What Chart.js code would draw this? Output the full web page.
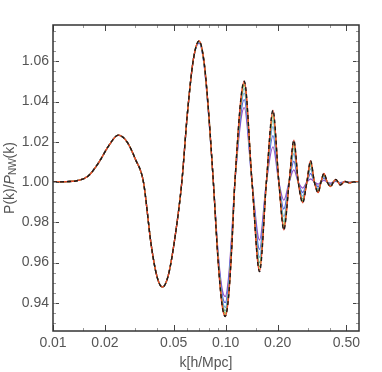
<!DOCTYPE html>
<html lang="en">
	<head>
		<meta charset="UTF-8">
		<title>BAO wiggles</title>
		<script src="https://cdn.jsdelivr.net/npm/chart.js"></script>
		<style>
			html, body { margin: 0; padding: 0; background: #fff; }
			#wrap { width: 382px; height: 372px; }
		</style>
	</head>
	<body>
		<div id="wrap"><canvas id="bao"></canvas></div>
		<script>
			// k values where every curve coincides (low k)
			const lowK = [0.010, 0.012, 0.014, 0.016, 0.0185, 0.021, 0.0239, 0.027, 0.030, 0.0334, 0.037, 0.040, 0.043, 0.0465, 0.051, 0.0557, 0.060, 0.065];
			const lowRatio = [1.0000, 1.0002, 1.0008, 1.0030, 1.0100, 1.0180, 1.0233, 1.0196, 1.0113, 1.0000, 0.9689, 0.9530, 0.9478, 0.9536, 0.9733, 1.0000, 1.0341, 1.0610];

			// k values where the damping starts to separate the curves
			const highK = [0.0701, 0.075, 0.080, 0.0848, 0.090, 0.095, 0.0993, 0.104, 0.1085, 0.113, 0.128, 0.142, 0.157, 0.172, 0.1877, 0.203, 0.217, 0.233, 0.248, 0.263, 0.279, 0.295, 0.310, 0.326, 0.343, 0.356, 0.370, 0.387, 0.405, 0.420, 0.434, 0.447, 0.460, 0.490, 0.520, 0.550, 0.591];

			const purpleHigh = [1.0690, 1.0580, 1.0310, 1.0000, 0.9665, 0.9475, 0.9431, 0.9530, 0.9746, 1.0000, 1.0370, 1.0000, 0.9712, 1.0000, 1.0175, 1.0000, 0.9910, 1.0000, 1.0060, 1.0000, 0.9970, 1.0000, 1.0015, 1.0000, 0.9990, 1.0000, 1.0008, 1.0000, 0.9995, 1.0000, 1.0003, 1.0000, 0.9997, 1.0001, 0.9999, 1.0000, 1.0000];
			const blueHigh = [1.0693, 1.0584, 1.0314, 1.0000, 0.9654, 0.9451, 0.9401, 0.9501, 0.9727, 1.0000, 1.0409, 1.0000, 0.9665, 1.0000, 1.0230, 1.0000, 0.9866, 1.0000, 1.0104, 1.0000, 0.9948, 1.0000, 1.0042, 1.0000, 0.9977, 1.0000, 1.0019, 1.0000, 0.9990, 1.0000, 1.0006, 1.0000, 0.9993, 1.0002, 0.9998, 1.0000, 1.0000];
			const lightBlueHigh = [1.0696, 1.0588, 1.0318, 1.0000, 0.9645, 0.9432, 0.9377, 0.9477, 0.9711, 1.0000, 1.0442, 1.0000, 0.9626, 1.0000, 1.0275, 1.0000, 0.9829, 1.0000, 1.0141, 1.0000, 0.9930, 1.0000, 1.0065, 1.0000, 0.9966, 1.0000, 1.0027, 1.0000, 0.9985, 1.0000, 1.0009, 1.0000, 0.9990, 1.0002, 0.9997, 1.0000, 1.0000];
			const tealHigh = [1.0698, 1.0590, 1.0320, 1.0000, 0.9638, 0.9418, 0.9360, 0.9461, 0.9700, 1.0000, 1.0464, 1.0000, 0.9599, 1.0000, 1.0306, 1.0000, 0.9803, 1.0000, 1.0167, 1.0000, 0.9917, 1.0000, 1.0081, 1.0000, 0.9959, 1.0000, 1.0033, 1.0000, 0.9982, 1.0000, 1.0010, 1.0000, 0.9988, 1.0003, 0.9997, 1.0001, 1.0000];
			const greenHigh = [1.0699, 1.0592, 1.0322, 1.0000, 0.9634, 0.9408, 0.9347, 0.9448, 0.9692, 1.0000, 1.0481, 1.0000, 0.9579, 1.0000, 1.0330, 1.0000, 0.9784, 1.0000, 1.0186, 1.0000, 0.9908, 1.0000, 1.0092, 1.0000, 0.9953, 1.0000, 1.0038, 1.0000, 0.9980, 1.0000, 1.0011, 1.0000, 0.9987, 1.0003, 0.9996, 1.0001, 1.0000];
			const orangeHigh = [1.0700, 1.0593, 1.0323, 1.0000, 0.9630, 0.9401, 0.9338, 0.9440, 0.9686, 1.0000, 1.0493, 1.0000, 0.9564, 1.0000, 1.0346, 1.0000, 0.9771, 1.0000, 1.0199, 1.0000, 0.9901, 1.0000, 1.0101, 1.0000, 0.9950, 1.0000, 1.0041, 1.0000, 0.9978, 1.0000, 1.0012, 1.0000, 0.9986, 1.0003, 0.9996, 1.0001, 1.0000];
			const redHigh = [1.0701, 1.0594, 1.0324, 1.0000, 0.9628, 0.9396, 0.9332, 0.9434, 0.9682, 1.0000, 1.0501, 1.0000, 0.9555, 1.0000, 1.0357, 1.0000, 0.9762, 1.0000, 1.0208, 1.0000, 0.9897, 1.0000, 1.0106, 1.0000, 0.9947, 1.0000, 1.0043, 1.0000, 0.9977, 1.0000, 1.0013, 1.0000, 0.9985, 1.0003, 0.9996, 1.0001, 1.0000];
			const blackHigh = [1.0701, 1.0594, 1.0324, 1.0000, 0.9628, 0.9396, 0.9332, 0.9434, 0.9682, 1.0000, 1.0501, 1.0000, 0.9555, 1.0000, 1.0357, 1.0000, 0.9762, 1.0000, 1.0208, 1.0000, 0.9897, 1.0000, 1.0106, 1.0000, 0.9947, 1.0000, 1.0043, 1.0000, 0.9977, 1.0000, 1.0013, 1.0000, 0.9985, 1.0003, 0.9996, 1.0001, 1.0000];

			// axis ticks
			const xTicks = [0.01, 0.02, 0.05, 0.1, 0.2, 0.5];
			const xTickLabels = ["0.01", "0.02", "0.05", "0.10", "0.20", "0.50"];
			const xMinorTicks = [0.015, 0.03, 0.04, 0.06, 0.07, 0.08, 0.09, 0.15, 0.3, 0.4];
			const yTicks = [0.94, 0.96, 0.98, 1.00, 1.02, 1.04, 1.06];
			const yMinorStep = 0.005;

			const allK = lowK.concat(highK);
			function toPoints(high) {
				const ys = lowRatio.concat(high);
				return allK.map((k, i) => ({ x: k, y: ys[i] }));
			}

			function line(values, color, dash) {
				return {
					data: toPoints(values),
					borderColor: color,
					borderWidth: dash ? 1.4 : 1.3,
					borderDash: dash || [],
					pointRadius: 0,
					fill: false,
					cubicInterpolationMode: 'monotone'
				};
			}

			const font = '"Liberation Sans", Arial, sans-serif';
			const textColor = '#555';

			// frame with inward ticks on all four sides, plus the y title
			const framePlugin = {
				id: 'frame',
				afterDraw(chart) {
					const ctx = chart.ctx;
					const a = chart.chartArea;
					const xs = chart.scales.x, ys = chart.scales.y;
					ctx.save();
					ctx.strokeStyle = '#444';
					ctx.lineWidth = 1;
					ctx.beginPath();
					xTicks.forEach(v => {
						const p = Math.round(xs.getPixelForValue(v)) + 0.5;
						ctx.moveTo(p, a.bottom); ctx.lineTo(p, a.bottom - 6);
						ctx.moveTo(p, a.top); ctx.lineTo(p, a.top + 6);
					});
					yTicks.forEach(v => {
						const p = Math.round(ys.getPixelForValue(v)) + 0.5;
						ctx.moveTo(a.left, p); ctx.lineTo(a.left + 6, p);
						ctx.moveTo(a.right, p); ctx.lineTo(a.right - 6, p);
					});
					ctx.stroke();
					ctx.strokeStyle = '#999';
					ctx.beginPath();
					xMinorTicks.forEach(v => {
						const p = Math.round(xs.getPixelForValue(v)) + 0.5;
						ctx.moveTo(p, a.bottom); ctx.lineTo(p, a.bottom - 3);
						ctx.moveTo(p, a.top); ctx.lineTo(p, a.top + 3);
					});
					for (let v = ys.min; v <= ys.max; v += yMinorStep) {
						const q = Math.round(v / yMinorStep) * yMinorStep;
						if (q < ys.min || q > ys.max) continue;
						const p = Math.round(ys.getPixelForValue(q)) + 0.5;
						ctx.moveTo(a.left, p); ctx.lineTo(a.left + 3, p);
						ctx.moveTo(a.right, p); ctx.lineTo(a.right - 3, p);
					}
					ctx.stroke();
					ctx.strokeStyle = '#333';
					ctx.lineWidth = 1.5;
					ctx.strokeRect(a.left, a.top, a.right - a.left, a.bottom - a.top);

					// y title: P(k)/P_NW(k), rotated
					ctx.translate(10, (a.top + a.bottom) / 2);
					ctx.rotate(-Math.PI / 2);
					ctx.fillStyle = textColor;
					ctx.textBaseline = 'middle';
					const parts = [
						{ t: 'P(k)/', f: '14px ' + font, dy: 0 },
						{ t: 'P', f: 'italic 14px ' + font, dy: 0 },
						{ t: 'NW', f: '10px ' + font, dy: 3 },
						{ t: '(k)', f: '14px ' + font, dy: 0 }
					];
					let total = 0;
					parts.forEach(p => { ctx.font = p.f; p.w = ctx.measureText(p.t).width; total += p.w; });
					let x = -total / 2;
					parts.forEach(p => {
						ctx.font = p.f;
						ctx.fillText(p.t, x, p.dy);
						x += p.w;
					});
					ctx.restore();
				}
			};

			new Chart(document.getElementById('bao'), {
				type: 'line',
				data: {
					datasets: [
						line(blackHigh, '#1a1a1a', [4, 3]),
						line(redHigh, '#e8442e'),
						line(orangeHigh, '#e3a02f'),
						line(greenHigh, '#79ae48'),
						line(tealHigh, '#62b7b3'),
						line(lightBlueHigh, '#6a9fe0'),
						line(blueHigh, '#5560d8'),
						line(purpleHigh, '#9756c4')
					]
				},
				options: {
					responsive: true,
					maintainAspectRatio: false,
					animation: false,
					layout: { padding: { top: 25, right: 23, left: 0, bottom: 0 } },
					plugins: { legend: { display: false }, tooltip: { enabled: false } },
					scales: {
						x: {
							type: 'logarithmic',
							min: 0.01,
							max: 0.591,
							afterBuildTicks: s => { s.ticks = xTicks.map(v => ({ value: v })); },
							afterFit: s => { s.height = 41; },
							grid: { display: false, drawTicks: false },
							border: { display: false },
							ticks: {
								autoSkip: false,
								maxRotation: 0,
								padding: 4,
								color: textColor,
								font: { family: font, size: 14 },
								callback: (v) => xTickLabels[xTicks.indexOf(v)]
							},
							title: {
								display: true,
								text: 'k[h/Mpc]',
								color: textColor,
								font: { family: font, size: 14 },
								padding: { top: 2, bottom: 0 }
							}
						},
						y: {
							min: 0.926,
							max: 1.078,
							afterBuildTicks: s => { s.ticks = yTicks.map(v => ({ value: v })); },
							afterFit: s => { s.width = 53; },
							grid: { display: false, drawTicks: false },
							border: { display: false },
							ticks: {
								padding: 4,
								color: textColor,
								font: { family: font, size: 14 },
								callback: v => v.toFixed(2)
							}
						}
					}
				},
				plugins: [framePlugin]
			});
		</script>
	</body>
</html>
